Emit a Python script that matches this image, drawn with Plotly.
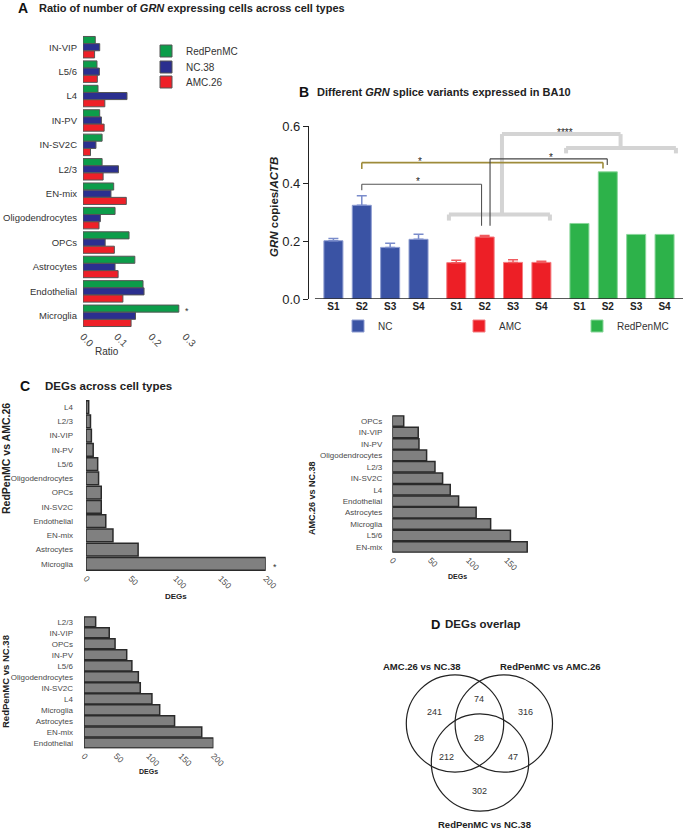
import plotly.graph_objects as go

W, H = 685, 830
FONT = "Arial, Liberation Sans, Helvetica, sans-serif"

# ---------------- data ----------------
# Panel A
cell_types_a = ['IN-VIP', 'L5/6', 'L4', 'IN-PV', 'IN-SV2C', 'L2/3', 'EN-mix',
                'Oligodendrocytes', 'OPCs', 'Astrocytes', 'Endothelial', 'Microglia']
ratio_redpenmc = [0.036, 0.041, 0.044, 0.049, 0.056, 0.056, 0.090, 0.094, 0.135, 0.152, 0.176, 0.281]
ratio_nc38 = [0.049, 0.048, 0.129, 0.054, 0.038, 0.104, 0.082, 0.051, 0.065, 0.094, 0.179, 0.154]
ratio_amc26 = [0.034, 0.042, 0.064, 0.062, 0.022, 0.059, 0.127, 0.047, 0.092, 0.103, 0.117, 0.141]
ticks_a = [0.0, 0.1, 0.2, 0.3]

# Panel B
variants = ['S1', 'S2', 'S3', 'S4']
nc_vals = [0.202, 0.325, 0.179, 0.207]
nc_err = [0.008, 0.033, 0.014, 0.018]
amc_vals = [0.126, 0.215, 0.127, 0.127]
amc_err = [0.008, 0.005, 0.009, 0.004]
rpm_vals = [0.262, 0.441, 0.224, 0.224]
ticks_b = [0.0, 0.2, 0.4, 0.6]

# Panel C
c1_types = ['L4', 'L2/3', 'IN-VIP', 'IN-PV', 'L5/6', 'Oligodendrocytes', 'OPCs', 'IN-SV2C',
            'Endothelial', 'EN-mix', 'Astrocytes', 'Microglia']
c1_degs = [3, 5, 6, 8, 13, 14, 17, 17, 22, 30, 58, 200]
c2_types = ['OPCs', 'IN-VIP', 'IN-PV', 'Oligodendrocytes', 'L2/3', 'IN-SV2C', 'L4',
            'Endothelial', 'Astrocytes', 'Microglia', 'L5/6', 'EN-mix']
c2_degs = [15, 34, 35, 45, 56, 66, 76, 87, 110, 129, 155, 177]
c3_types = ['L2/3', 'IN-VIP', 'OPCs', 'IN-PV', 'L5/6', 'Oligodendrocytes', 'IN-SV2C', 'L4',
            'Microglia', 'Astrocytes', 'EN-mix', 'Endothelial']
c3_degs = [18, 39, 48, 66, 74, 84, 87, 105, 117, 140, 182, 200]
ticks_c = [0, 50, 100, 150, 200]

# Panel D (Venn counts)
venn_sets = ['AMC.26 vs NC.38', 'RedPenMC vs AMC.26', 'RedPenMC vs NC.38']
venn_regions = ['A only', 'A&B', 'B only', 'A&B&C', 'A&C', 'B&C', 'C only']
venn_counts = [241, 74, 316, 28, 212, 47, 302]


# ---------------- helpers ----------------
def fx(p):
    return p / W


def fy(p):
    return 1 - p / H


def dom_x(a, b):
    return [fx(a), fx(b)]


def dom_y(top, bottom):
    return [fy(bottom), fy(top)]


annotations = []
shapes = []


def ann(text, x, y, size, color='#222', xanchor='left', yanchor='middle', angle=0, xref='paper', yref='paper'):
    if xref == 'paper':
        x = fx(x)
    if yref == 'paper':
        y = fy(y)
    annotations.append(dict(text=text, x=x, y=y, xref=xref, yref=yref, showarrow=False,
                            xanchor=xanchor, yanchor=yanchor, textangle=angle,
                            font=dict(family=FONT, size=size, color=color)))


fig = go.Figure()

# ---------------- Panel A ----------------
col_rpm_a, col_nc_a, col_amc_a = '#0C9D4A', '#2B2F8F', '#EE2028'
for name, vals, col, off, lg_name in [('RedPenMC', ratio_redpenmc, col_rpm_a, -0.44, 'legend'),
                                      ('NC.38', ratio_nc38, col_nc_a, -0.145, 'legend2'),
                                      ('AMC.26', ratio_amc26, col_amc_a, 0.15, 'legend3')]:
    fig.add_trace(go.Bar(x=vals, y=cell_types_a, orientation='h', name=name,
                         marker=dict(color=col, line=dict(color='#555', width=1)),
                         width=0.29, offset=off, xaxis='x', yaxis='y', legend=lg_name))

# ---------------- Panel B ----------------
pos_nc = [0, 1, 2, 3]
pos_amc = [4.33, 5.33, 6.33, 7.33]
pos_rpm = [8.67, 9.67, 10.67, 11.67]
fig.add_trace(go.Bar(x=pos_nc, y=nc_vals, name='NC', width=0.67,
                     marker=dict(color='#3A53A4', line=dict(color='#8C9BD0', width=1)),
                     error_y=dict(type='data', array=nc_err, arrayminus=[0] * 4, symmetric=False,
                                  color='#7A8CCB', thickness=1.5, width=5),
                     xaxis='x2', yaxis='y2', legend='legend4'))
fig.add_trace(go.Bar(x=pos_amc, y=amc_vals, name='AMC', width=0.67,
                     marker=dict(color='#ED1F26', line=dict(color='#F47D80', width=1)),
                     error_y=dict(type='data', array=amc_err, arrayminus=[0] * 4, symmetric=False,
                                  color='#F05A5E', thickness=1.5, width=5),
                     xaxis='x2', yaxis='y2', legend='legend5'))
fig.add_trace(go.Bar(x=pos_rpm, y=rpm_vals, name='RedPenMC', width=0.67,
                     marker=dict(color='#2DB24A', line=dict(color='#8AD69A', width=1)),
                     xaxis='x2', yaxis='y2', legend='legend6'))


# significance brackets (x2 / y2 data coordinates)
def seg(x0, y0, x1, y1, color, width):
    shapes.append(dict(type='line', xref='x2', yref='y2', x0=x0, y0=y0, x1=x1, y1=y1,
                       line=dict(color=color, width=width)))


lg = '#D4D4D4'
seg(4.07, 0.293, 7.63, 0.293, lg, 4)
seg(4.07, 0.293, 4.07, 0.272, lg, 4)
seg(7.63, 0.293, 7.63, 0.272, lg, 4)
seg(5.94, 0.293, 5.94, 0.572, lg, 4)
seg(5.94, 0.572, 10.12, 0.572, lg, 4)
seg(10.12, 0.572, 10.12, 0.524, lg, 4)
seg(8.2, 0.524, 12.07, 0.524, lg, 4)
seg(8.2, 0.524, 8.2, 0.505, lg, 4)
seg(12.07, 0.524, 12.07, 0.505, lg, 4)
seg(1.0, 0.398, 5.22, 0.398, '#555', 1.1)
seg(1.0, 0.398, 1.0, 0.377, '#555', 1.1)
seg(5.22, 0.398, 5.22, 0.254, '#555', 1.1)
seg(1.0, 0.473, 9.5, 0.473, '#9E8B3A', 1.6)
seg(1.0, 0.473, 1.0, 0.451, '#9E8B3A', 1.6)
seg(9.5, 0.473, 9.5, 0.453, '#9E8B3A', 1.6)
seg(5.52, 0.486, 9.65, 0.486, '#444', 1.1)
seg(5.52, 0.486, 5.52, 0.254, '#444', 1.1)
seg(9.65, 0.486, 9.65, 0.465, '#444', 1.1)
seg(-0.65, 0, 12.32, 0, '#222', 1.3)

for txt, xx, yy in [('****', 8.16, 0.578), ('*', 7.66, 0.490), ('*', 3.05, 0.476), ('*', 2.99, 0.407)]:
    ann(txt, xx, yy, 10, '#222', 'center', 'middle', xref='x2', yref='y2')

# ---------------- Panel C ----------------
bar_c = dict(color='#808080', line=dict(color='#2A2A2A', width=1.5))
fig.add_trace(go.Bar(x=c1_degs, y=c1_types, orientation='h', width=0.88, marker=bar_c,
                     showlegend=False, xaxis='x3', yaxis='y3'))
fig.add_trace(go.Bar(x=c2_degs, y=c2_types, orientation='h', width=0.92, marker=bar_c,
                     showlegend=False, xaxis='x4', yaxis='y4'))
fig.add_trace(go.Bar(x=c3_degs, y=c3_types, orientation='h', width=0.92, marker=bar_c,
                     showlegend=False, xaxis='x5', yaxis='y5'))


# ---------------- axes ----------------
def cat_y(dom, cats, size, standoff, color, anchor):
    return dict(domain=dom, type='category', categoryorder='array', categoryarray=cats,
                range=[len(cats) - 0.5, -0.5], showgrid=False, zeroline=False, showline=False,
                ticks='', ticklabelstandoff=standoff, automargin=False, anchor=anchor,
                tickfont=dict(family=FONT, size=size, color=color))


def val_x(dom, rng, tv, tt, anchor, size, color):
    return dict(domain=dom, range=rng, showgrid=False, zeroline=False, showline=False,
                ticks='', tickvals=tv, ticktext=tt, tickangle=45, anchor=anchor, automargin=False,
                tickfont=dict(family=FONT, size=size, color=color))


CL = '#4A4A4A'
fig.update_layout(
    template='none',
    xaxis=val_x(dom_x(83, 185.3), [0, 0.3], ticks_a, ['%.1f' % t for t in ticks_a], 'y', 10, '#444'),
    yaxis=cat_y(dom_y(35, 328), cell_types_a, 9.5, 5, '#333', 'x'),
    xaxis2=dict(domain=dom_x(309, 683), range=[-0.86, 12.32], showgrid=False, zeroline=False,
                showline=False, ticks='', anchor='y2', automargin=False,
                tickvals=pos_nc + pos_amc + pos_rpm,
                ticktext=['<b>%s</b>' % v for v in variants * 3],
                tickfont=dict(family=FONT, size=10, color='#222')),
    yaxis2=dict(domain=dom_y(126, 299), range=[0, 0.6], showgrid=False, zeroline=False,
                showline=True, linecolor='#222', linewidth=1.3, ticks='outside', ticklen=5,
                tickwidth=1.3, tickcolor='#222', anchor='x2', automargin=False,
                tickvals=ticks_b, ticktext=['%.1f' % t for t in ticks_b],
                tickfont=dict(family=FONT, size=13, color='#222')),
    xaxis3=val_x(dom_x(86, 265.7), [0, 200], ticks_c, [str(t) for t in ticks_c], 'y3', 8.5, CL),
    yaxis3=cat_y(dom_y(400, 571), c1_types, 8, 12, CL, 'x3'),
    xaxis4=val_x(dom_x(392.3, 529.5), [0, 180], ticks_c[:4], [str(t) for t in ticks_c[:4]], 'y4', 8.5, CL),
    yaxis4=cat_y(dom_y(415.3, 552.7), c2_types, 8, 9, CL, 'x4'),
    xaxis5=val_x(dom_x(84, 213.4), [0, 200], ticks_c, [str(t) for t in ticks_c], 'y5', 8.5, CL),
    yaxis5=cat_y(dom_y(616.2, 748.5), c3_types, 8, 10, CL, 'x5'),
)

# ---------------- titles & labels ----------------
ann('<b>A</b>', 16, 8, 14, '#111')
ann('<b>Ratio of number of <i>GRN</i> expressing cells across cell types</b>', 37, 8, 11, '#222')
ann('Ratio', 107, 351, 10, '#333', 'center')
ann('*', 183, 311, 9, '#333', 'left')

ann('<b>B</b>', 297, 92, 14, '#111')
ann('<b>Different <i>GRN</i> splice variants expressed in BA10</b>', 315, 92, 11, '#222')
ann('<b><i>GRN</i> copies/<i>ACTB</i></b>', 274, 207, 11.5, '#222', 'center', 'middle', -90)

ann('<b>C</b>', 18, 386, 14, '#111')
ann('<b>DEGs across cell types</b>', 43, 386, 11.5, '#222')
ann('<b>RedPenMC vs AMC.26</b>', 6, 459, 10.5, '#222', 'center', 'middle', -90)
ann('<b>DEGs</b>', 176, 596, 8, '#222', 'center')
ann('*', 271, 567, 9, '#333', 'left')
ann('<b>AMC.26 vs NC.38</b>', 312, 498, 9, '#222', 'center', 'middle', -90)
ann('<b>DEGs</b>', 457, 576, 7, '#222', 'center')
ann('<b>RedPenMC vs NC.38</b>', 5, 682, 9.5, '#222', 'center', 'middle', -90)
ann('<b>DEGs</b>', 148, 771, 7, '#222', 'center')

ann('<b>D</b>', 429, 624, 13, '#111')
ann('<b>DEGs overlap</b>', 443, 624, 11.5, '#222')

# ---------------- Venn ----------------
venn_circles = [(455, 723.5), (503.8, 723.5), (480, 762.5)]
R = 48.7
for cx, cy in venn_circles:
    shapes.append(dict(type='circle', xref='paper', yref='paper',
                       x0=fx(cx - R), x1=fx(cx + R), y0=fy(cy + R), y1=fy(cy - R),
                       line=dict(color='#222', width=1.2)))
venn_label_pos = [(434, 711.7), (479.3, 699.3), (525, 711.7), (479.3, 737.7),
                  (446, 756.7), (512.7, 756.7), (479.3, 790.7)]
for cnt, (lx, ly) in zip(venn_counts, venn_label_pos):
    ann(str(cnt), lx, ly, 9, '#333', 'center')
for name, (lx, ly) in zip(venn_sets, [(421.7, 666), (550, 666), (484, 824)]):
    ann('<b>%s</b>' % name, lx, ly, 9.5, '#222', 'center')


# ---------------- legends (one entry each, placed individually) ----------------
def leg(x, y):
    return dict(x=fx(x), y=fy(y), xanchor='left', yanchor='middle', orientation='v',
                bgcolor='rgba(0,0,0,0)', borderwidth=0, itemwidth=30,
                font=dict(family=FONT, size=10, color='#333'))


fig.update_layout(
    width=W, height=H, margin=dict(l=0, r=0, t=0, b=0, pad=0),
    paper_bgcolor='white', plot_bgcolor='white', barmode='overlay',
    font=dict(family=FONT),
    annotations=annotations, shapes=shapes, showlegend=True,
    legend=leg(146, 51), legend2=leg(146, 67), legend3=leg(146, 82),
    legend4=leg(338, 326), legend5=leg(459, 326), legend6=leg(577, 326),
)

fig.write_html('out.html', config={'displayModeBar': False},
               post_script="document.body.style.margin='0';document.body.style.overflow='hidden';")
